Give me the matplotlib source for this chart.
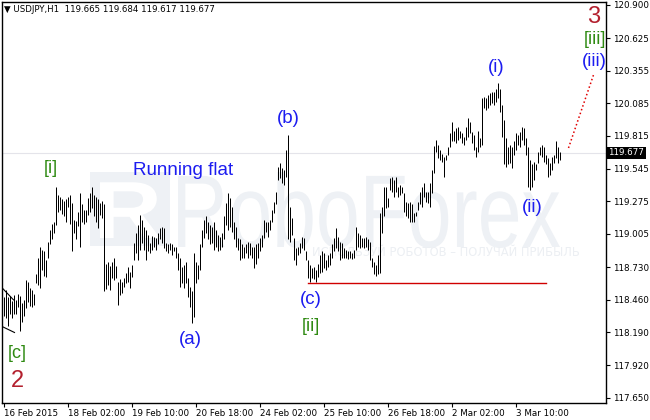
import matplotlib
matplotlib.use("Agg")
import matplotlib.pyplot as plt
import numpy as np
from matplotlib.transforms import blended_transform_factory, Affine2D, IdentityTransform
from matplotlib.textpath import TextPath
from matplotlib.patches import PathPatch
from matplotlib.font_manager import FontProperties

# ---------------- data (USDJPY H1 bars) ----------------
highs = [
    118.48, 118.54, 118.48, 118.49, 118.45, 118.50, 118.46, 118.51, 118.49, 118.43,
    118.46, 118.62, 118.61, 118.56, 118.54, 118.51, 118.67, 118.81, 118.90, 118.87,
    118.86, 118.79, 118.94, 119.04, 119.09, 119.10, 119.39, 119.33, 119.31, 119.29,
    119.28, 119.29, 119.31, 119.33, 119.26, 119.12, 119.11, 119.19, 119.34, 119.25,
    119.20, 119.20, 119.30, 119.34, 119.39, 119.33, 119.31, 119.29, 119.26, 119.28,
    119.25, 118.76, 118.77, 118.74, 118.77, 118.81, 118.74, 118.61, 118.63, 118.61,
    118.64, 118.68, 118.73, 118.69, 118.75, 118.93, 119.01, 119.08, 119.16, 119.12,
    119.06, 119.04, 119.00, 118.93, 118.99, 118.98, 118.97, 119.01, 119.05, 119.06,
    119.05, 118.93, 118.92, 118.93, 118.92, 118.90, 118.90, 118.85, 118.81, 118.73,
    118.75, 118.77, 118.64, 118.57, 118.53, 118.85, 118.77, 118.75, 118.92, 119.04,
    119.12, 119.15, 119.10, 119.08, 119.06, 119.10, 119.04, 119.00, 118.98, 119.01,
    119.15, 119.26, 119.34, 119.30, 119.23, 119.10, 119.06, 118.97, 118.96, 118.92,
    118.90, 118.92, 118.94, 118.93, 118.90, 118.90, 118.92, 118.93, 118.97, 119.00,
    119.12, 119.10, 119.10, 119.12, 119.20, 119.27, 119.35, 119.56, 119.59, 119.55,
    119.53, 119.70, 119.82, 119.23, 119.14, 118.97, 118.89, 118.90, 118.93, 118.98,
    118.97, 118.86, 118.79, 118.75, 118.72, 118.73, 118.71, 118.76, 118.83, 118.86,
    118.85, 118.79, 118.83, 118.85, 118.92, 118.97, 119.05, 118.98, 118.94, 118.93,
    118.89, 118.87, 118.86, 118.86, 118.85, 118.87, 119.06, 119.01, 119.00, 118.97,
    118.97, 118.98, 118.96, 118.94, 118.81, 118.77, 118.75, 118.83, 119.18, 119.23,
    119.39, 119.39, 119.30, 119.47, 119.48, 119.45, 119.48, 119.39, 119.41, 119.39,
    119.34, 119.27, 119.26, 119.27, 119.25, 119.18, 119.19, 119.27, 119.35, 119.39,
    119.43, 119.35, 119.35, 119.43, 119.53, 119.73, 119.78, 119.74, 119.70, 119.67,
    119.64, 119.66, 119.72, 119.84, 119.93, 119.86, 119.88, 119.89, 119.86, 119.84,
    119.81, 119.89, 119.96, 119.93, 119.85, 119.82, 119.72, 119.86, 119.80, 120.13,
    120.14, 120.13, 120.15, 120.17, 120.18, 120.18, 120.20, 120.25, 120.20, 120.07,
    119.95, 119.80, 119.72, 119.74, 119.72, 119.77, 119.84, 119.82, 119.85, 119.89,
    119.88, 119.80, 119.72, 119.62, 119.58, 119.60, 119.58, 119.68, 119.72, 119.74,
    119.72, 119.66, 119.63, 119.59, 119.64, 119.66, 119.77, 119.72, 119.684,
]
lows = [
    118.33, 118.31, 118.24, 118.34, 118.31, 118.34, 118.34, 118.40, 118.20, 118.28,
    118.33, 118.39, 118.44, 118.41, 118.40, 118.42, 118.60, 118.58, 118.56, 118.71,
    118.66, 118.65, 118.81, 118.92, 118.96, 119.01, 119.08, 119.19, 119.20, 119.17,
    119.15, 119.10, 119.23, 119.09, 118.86, 119.01, 118.96, 119.07, 118.90, 119.10,
    119.09, 119.10, 119.16, 119.19, 119.22, 119.15, 119.10, 119.05, 119.16, 119.14,
    118.53, 118.55, 118.58, 118.54, 118.64, 118.62, 118.64, 118.42, 118.50, 118.52,
    118.57, 118.60, 118.61, 118.56, 118.65, 118.79, 118.85, 118.79, 118.87, 118.93,
    118.87, 118.79, 118.86, 118.85, 118.87, 118.90, 118.87, 118.92, 118.96, 118.93,
    118.89, 118.86, 118.85, 118.87, 118.83, 118.86, 118.81, 118.71, 118.57, 118.60,
    118.56, 118.60, 118.48, 118.40, 118.27, 118.32, 118.60, 118.63, 118.71, 118.90,
    118.97, 119.01, 118.96, 118.92, 118.93, 118.87, 118.90, 118.86, 118.87, 118.90,
    118.96, 119.08, 119.04, 119.06, 119.02, 118.96, 118.90, 118.87, 118.79, 118.81,
    118.81, 118.85, 118.81, 118.83, 118.81, 118.72, 118.76, 118.81, 118.86, 118.90,
    118.97, 119.02, 118.98, 119.04, 119.10, 119.18, 119.25, 119.45, 119.47, 119.43,
    119.41, 119.48, 118.96, 118.94, 119.00, 118.79, 118.75, 118.83, 118.85, 118.89,
    118.87, 118.79, 118.64, 118.61, 118.64, 118.63, 118.61, 118.65, 118.68, 118.69,
    118.72, 118.71, 118.73, 118.75, 118.81, 118.86, 118.89, 118.86, 118.79, 118.81,
    118.81, 118.81, 118.80, 118.81, 118.80, 118.81, 118.87, 118.90, 118.89, 118.90,
    118.89, 118.90, 118.87, 118.79, 118.73, 118.67, 118.66, 118.67, 118.68, 119.01,
    119.15, 119.22, 119.23, 119.37, 119.35, 119.31, 119.35, 119.31, 119.33, 119.34,
    119.19, 119.15, 119.14, 119.10, 119.10, 119.10, 119.15, 119.20, 119.25, 119.23,
    119.31, 119.27, 119.26, 119.23, 119.34, 119.51, 119.68, 119.63, 119.62, 119.60,
    119.48, 119.62, 119.66, 119.72, 119.77, 119.77, 119.76, 119.78, 119.80, 119.76,
    119.74, 119.78, 119.81, 119.84, 119.76, 119.70, 119.64, 119.68, 119.72, 119.74,
    120.05, 120.03, 120.05, 120.07, 120.09, 120.07, 120.10, 120.13, 120.01, 119.81,
    119.58, 119.56, 119.58, 119.59, 119.55, 119.66, 119.70, 119.74, 119.72, 119.78,
    119.74, 119.66, 119.39, 119.37, 119.39, 119.45, 119.53, 119.59, 119.66, 119.64,
    119.60, 119.58, 119.48, 119.49, 119.53, 119.59, 119.63, 119.59, 119.617,
]
last_ohlc = [119.665, 119.684, 119.617, 119.677]

ytick_values = [120.900, 120.625, 120.355, 120.085, 119.815, 119.545, 119.275,
                119.005, 118.730, 118.460, 118.190, 117.920, 117.650]
ytick_labels = ["%.3f" % v for v in ytick_values]
xtick_bars = [0, 32, 64, 96, 128, 160, 192, 224, 256]
xtick_labels = ["16 Feb 2015", "18 Feb 02:00", "19 Feb 10:00", "20 Feb 18:00",
                "24 Feb 02:00", "25 Feb 10:00", "26 Feb 18:00", "2 Mar 02:00",
                "3 Mar 10:00"]

support_level = 118.60
support_bars = [152, 271]
projection_bars = [282.5, 295.0]
projection_prices = [119.716, 120.32]
wedge_upper = ([-0.75, 5.0], [118.56, 118.46])
wedge_lower = ([-0.75, 5.5], [118.24, 118.19])

# wave labels: (text, bar position, price, colour, size)
BLUE = "#1c1cf0"
GREEN = "#2f8a12"
DRED = "#b3202e"
wave_labels = [
    ("[i]", 23.5, 119.55, GREEN, 13),
    ("Running flat", 90.0, 119.53, BLUE, 13.5),
    ("(b)", 142.5, 119.96, BLUE, 13.5),
    ("(a)", 93.5, 118.13, BLUE, 13.5),
    ("(c)", 153.5, 118.46, BLUE, 13.5),
    ("[ii]", 153.5, 118.24, GREEN, 13),
    ("(i)", 246.5, 120.38, BLUE, 13.5),
    ("(ii)", 264.5, 119.22, BLUE, 13.5),
    ("(iii)", 295.5, 120.43, BLUE, 13.5),
    ("[iii]", 295.5, 120.61, GREEN, 13),
    ("3", 295.0, 120.80, DRED, 17),
    ("[c]", 7.0, 118.02, GREEN, 13),
    ("2", 7.0, 117.79, DRED, 17),
]

# ---------------- figure ----------------
W, H = 650, 420
fig = plt.figure(figsize=(W / 100, H / 100), dpi=100)
ax = fig.add_axes([2 / W, 1 - 403 / H, 604 / W, 401 / H])
ax.set_xlim(-0.75, 301.25)
ax.set_ylim(117.607, 120.923)
ax.patch.set_alpha(0)

# watermark (behind the axes)
wm_col = "#eef1f5"
prop = FontProperties(family="Liberation Sans")
tp = TextPath((0, 0), "RoboForex", size=1, prop=prop)
bb = tp.get_extents()
sx = 382 / bb.width
sy = 74 / 0.716
tr = Affine2D().translate(-bb.x0, 0).scale(sx, sy).translate(178, H - 247)
fig.patches.append(PathPatch(tp, transform=tr + IdentityTransform(), facecolor=wm_col,
                             edgecolor="none", zorder=-2))
fig.patches.append(plt.Rectangle((90, H - 246), 80, 74, transform=IdentityTransform(),
                                 facecolor=wm_col, edgecolor="none", zorder=-2))
tpr = TextPath((0, 0), "R", size=1, prop=FontProperties(family="Liberation Sans", weight="bold"))
bbr = tpr.get_extents()
trr = Affine2D().translate(-bbr.x0, 0).scale(60 / bbr.width, 58 / 0.716).translate(100, H - 238)
fig.patches.append(PathPatch(tpr, transform=trr + IdentityTransform(), facecolor="white",
                             edgecolor="none", zorder=-1))
fig.text(312 / W, 1 - 252 / H, "ИСПОЛЬЗУЙ РОБОТОВ – ПОЛУЧАЙ ПРИБЫЛЬ", fontsize=8.3,
         color="#eceff3", ha="left", va="center", family="DejaVu Sans", zorder=-1)

# current price line
ax.axhline(last_ohlc[3], color="#e4e4ea", lw=0.8, zorder=1)

# bars (one-pixel lines centred on pixel columns)
idx = np.arange(len(highs))
ax.vlines(idx, lows, highs, color="black", lw=0.72, zorder=3)

# drawings
ax.plot(support_bars, [support_level, support_level], color="#d00000", lw=1.0, zorder=4)
ax.plot(projection_bars, projection_prices, color="#e00000", lw=1.1,
        linestyle=(0, (1, 1.6)), zorder=4)
ax.plot(*wedge_upper, color="black", lw=0.8, zorder=4)
ax.plot(*wedge_lower, color="black", lw=0.8, zorder=4)

for txt, xb, yp, col, fs in wave_labels:
    ax.text(xb, yp, txt, color=col, fontsize=fs, ha="center", va="center",
            family="Liberation Sans", zorder=5)

# axes
for s in ax.spines.values():
    s.set_color("black")
    s.set_linewidth(1.0)
ax.yaxis.tick_right()
ax.set_yticks(ytick_values)
ax.set_yticklabels(ytick_labels)
ax.tick_params(axis="y", direction="out", length=3, width=0.8, pad=2,
               labelsize=6.3, colors="black")
ax.set_xticks(xtick_bars)
ax.set_xticklabels(xtick_labels, ha="left")
ax.tick_params(axis="x", direction="out", length=3, width=0.8, pad=1.5,
               labelsize=6.3, colors="black")

# current price box
btr = blended_transform_factory(ax.transAxes, ax.transData)
ax.text(1.004, last_ohlc[3], "%.3f" % last_ohlc[3], transform=btr, color="white",
        fontsize=6.3, ha="left", va="center", zorder=6,
        bbox=dict(facecolor="black", edgecolor="none", pad=1.2))

# header
fig.text(4 / W, 1 - 10 / H, "▼ USDJPY,H1  " + " ".join("%.3f" % v for v in last_ohlc),
         fontsize=6.2, ha="left", va="center", color="black", family="DejaVu Sans")

fig.savefig("out.png", dpi=100)
